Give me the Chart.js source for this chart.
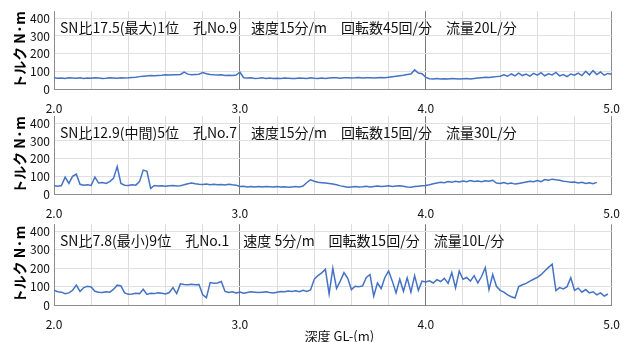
<!DOCTYPE html>
<html lang="ja">
<head>
<meta charset="UTF-8">
<title>トルク深度分布</title>
<script src="https://cdn.jsdelivr.net/npm/chart.js"></script>
<style>
    body {
        margin: 0;
        background: #fff;
        width: 632px;
        height: 342px;
        overflow: hidden;
        position: relative;
    }
    canvas {
        position: absolute;
        left: 0;
    }
</style>
</head>
<body>
<canvas id="c1" width="632" height="117" style="top:0px"></canvas>
<canvas id="c2" width="632" height="117" style="top:105px"></canvas>
<canvas id="c3" width="632" height="140" style="top:213px"></canvas>
<script>
    // depth of first sample and spacing between samples (m)
    const depthStart = 2.0;
    const depthStep = 0.02;

    // torque (N·m), one row per 0.2 m
    const torqueNo9 = [
        63, 61, 62, 60, 63, 62, 61, 63, 60, 62,
        61, 63, 62, 60, 61, 63, 62, 61, 64, 62,
        63, 65, 67, 70, 72, 74, 76, 75, 77, 78,
        80, 79, 81, 80, 82, 95, 84, 80, 82, 84,
        93, 86, 82, 80, 79, 80, 77, 78, 76, 79,
        96, 64, 62, 63, 60, 61, 63, 60, 62, 59,
        61, 60, 62, 61, 59, 60, 62, 61, 60, 63,
        61, 60, 62, 60, 62, 64, 63, 61, 63, 64,
        62, 63, 65, 62, 64, 63, 62, 64, 65, 63,
        66, 69, 72, 75, 78, 82, 85, 108, 90, 86,
        66, 58, 57, 59, 56, 58, 57, 59, 58, 56,
        58, 59, 57, 60, 62, 64, 66, 65, 68, 70,
        72, 80, 72, 85, 74, 90, 76, 84, 73, 88,
        78, 92, 75, 86, 80, 94, 74, 82, 70, 85,
        78, 90, 76, 100, 80, 104, 82, 96, 78, 88,
        84
    ];
    const torqueNo7 = [
        46, 44, 48, 95, 60, 100, 112, 55, 50, 52,
        48, 95, 62, 65, 60, 70, 88, 155, 60, 50,
        48, 52, 50, 70, 135, 128, 32, 48, 45, 47,
        44, 46, 48, 45, 47, 52, 58, 62, 58, 55,
        54, 56, 53, 55, 52, 54, 51, 55, 52, 50,
        42, 44, 40, 43, 39, 42, 40, 43, 41, 39,
        42, 40, 41, 38, 40, 42, 40, 45, 65, 80,
        72, 66, 64, 62, 60, 57, 52, 46, 42, 38,
        40, 42, 39, 41, 44, 40, 43, 45, 42, 44,
        46, 43, 45, 47, 44, 40, 38, 42, 44, 46,
        48, 52, 58, 62, 66, 64, 70, 67, 72, 68,
        74, 70, 76, 71, 73, 69, 75, 72, 78, 62,
        60, 65, 58, 62, 56, 60, 64, 68, 72, 70,
        76, 70, 82, 78, 84, 80, 78, 72, 70, 66,
        68, 62, 66, 60, 64, 58, 66
    ];
    const torqueNo1 = [
        80, 72, 70, 62, 66, 80, 108, 74, 95, 102,
        98, 75, 70, 68, 72, 70, 85, 108, 104, 66,
        58, 60, 64, 62, 86, 58, 64, 62, 66, 64,
        60, 68, 95, 62, 115, 112, 110, 113, 110, 112,
        56, 40, 122, 118, 120, 128, 74, 68, 72, 66,
        70, 64, 68, 72, 70, 68, 70, 72, 68, 66,
        70, 74, 72, 76, 74, 78, 72, 80, 74, 82,
        140, 160, 175, 194, 60, 200, 90, 130, 176, 145,
        84, 102, 100, 104, 150, 166, 48, 120, 90, 150,
        185, 130, 66, 140, 75, 148, 70, 160, 80, 130,
        125, 132, 120, 138, 128, 145, 118, 176, 93, 185,
        140, 150, 130, 160, 120, 155, 203, 84, 166, 102,
        80, 70, 55, 45, 38, 100, 110, 118, 130, 140,
        150, 165, 185, 205, 222, 78, 95, 88, 100, 148,
        80, 92, 70, 84, 66, 72, 55, 66, 48, 60
    ];

    const panelTexts = [
        'SN比17.5(最大)1位　孔No.9　速度15分/m　回転数45回/分　流量20L/分',
        'SN比12.9(中間)5位　孔No.7　速度15分/m　回転数15回/分　流量30L/分',
        'SN比7.8(最小)9位　孔No.1　速度 5分/m　回転数15回/分　流量10L/分'
    ];

    const xGridValues = [2.0, 2.2, 2.4, 2.6, 2.8, 3.0, 3.2, 3.4, 3.6, 3.8, 4.0, 4.2, 4.4, 4.6, 4.8, 5.0];
    const xLabelValues = [2.0, 3.0, 4.0, 5.0];
    const yGridValues = [0, 50, 100, 150, 200, 250, 300, 350, 400, 440];
    const yLabelValues = [0, 100, 200, 300, 400];
    const yTitle = 'トルク N·m';
    const xTitle = '　深度 GL-(m)';

    const FONT = '"Noto Sans CJK JP", "Liberation Sans", sans-serif';
    const LINE_BLUE = '#4472c4';

    // text box in the top left of each plot
    const panelText = {
        id: 'panelText',
        beforeDatasetsDraw(chart, args, opts) {
            const { ctx, chartArea } = chart;
            ctx.save();
            ctx.font = '14px ' + FONT;
            ctx.fillStyle = '#111';
            ctx.textBaseline = 'middle';
            ctx.fillText(opts.text, chartArea.left + 6, chartArea.top + 16);
            ctx.restore();
        }
    };

    const same = (a, b) => Math.abs(a - b) < 1e-6;

    function makePanel(id, values, text, showXTitle) {
        const points = values.map((v, i) => ({ x: +(depthStart + i * depthStep).toFixed(2), y: v }));
        return new Chart(document.getElementById(id), {
            type: 'line',
            data: {
                datasets: [{
                    data: points,
                    borderColor: LINE_BLUE,
                    borderWidth: 1.5,
                    pointRadius: 0,
                    tension: 0
                }]
            },
            plugins: [panelText],
            options: {
                responsive: false,
                animation: false,
                events: [],
                layout: { padding: { top: 9, right: 18, left: 0, bottom: 0 } },
                plugins: {
                    legend: { display: false },
                    tooltip: { enabled: false },
                    panelText: { text: text }
                },
                scales: {
                    x: {
                        type: 'linear',
                        min: 2,
                        max: 5,
                        afterBuildTicks: s => { s.ticks = xGridValues.map(v => ({ value: v })); },
                        afterFit: s => { s.height = showXTitle ? 48 : 28; },
                        grid: {
                            drawTicks: false,
                            color: c => {
                                const v = c.tick.value;
                                if (same(v, 3) || same(v, 4)) return '#787878';
                                if (same(v, 2) || same(v, 5)) return '#8c8c8c';
                                return '#dcdcdc';
                            }
                        },
                        border: { color: '#8c8c8c' },
                        ticks: {
                            autoSkip: false,
                            maxRotation: 0,
                            padding: 12,
                            color: '#111',
                            font: { family: FONT, size: 12 },
                            callback: v => xLabelValues.some(l => same(l, v)) ? v.toFixed(1) : ''
                        },
                        title: {
                            display: showXTitle,
                            text: xTitle,
                            color: '#111',
                            font: { family: FONT, size: 13 },
                            padding: { top: 0, bottom: 9 }
                        }
                    },
                    y: {
                        min: 0,
                        max: 440,
                        afterBuildTicks: s => { s.ticks = yGridValues.map(v => ({ value: v })); },
                        afterFit: s => { s.width = 54; },
                        grid: {
                            drawTicks: false,
                            color: c => (c.tick.value === 0 || c.tick.value === 440) ? '#8c8c8c' : '#e0e0e0'
                        },
                        border: { color: '#8c8c8c' },
                        ticks: {
                            padding: 4,
                            color: '#111',
                            font: { family: FONT, size: 12 },
                            callback: v => yLabelValues.includes(v) ? String(v) : ''
                        },
                        title: {
                            display: true,
                            text: yTitle,
                            color: '#000',
                            font: { family: FONT, size: 14, weight: 'bold' },
                            padding: { top: 11, bottom: 0 }
                        }
                    }
                }
            }
        });
    }

    makePanel('c1', torqueNo9, panelTexts[0], false);
    makePanel('c2', torqueNo7, panelTexts[1], false);
    makePanel('c3', torqueNo1, panelTexts[2], true);
</script>
</body>
</html>
